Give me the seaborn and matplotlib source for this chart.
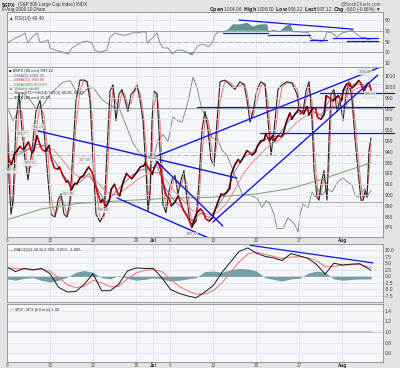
import numpy as np
import pandas as pd
import matplotlib
matplotlib.use("Agg")
import matplotlib.pyplot as plt
import seaborn as sns

# -------------------------------------------------------------------------
# Data read off the $SPX 60-min chart (Jun 8 - Aug 6 2009)
# x values are trading days counted from the Jun 8 open
# -------------------------------------------------------------------------

date_ticks = [0, 5, 10, 15, 17, 19, 24, 29, 34, 39]
date_labels = ["8", "15", "22", "29", "Jul", "6", "13", "20", "27", "Aug"]

# three readings per session (morning, midday, close); last day is partial
price_by_day = [
    [936, 928, 939], [940, 945, 942], [944, 949, 939], [941, 955, 945], [942, 940, 946],
    [935, 925, 924], [926, 918, 912], [913, 905, 911], [910, 916, 918], [921, 926, 921],
    [915, 903, 893], [896, 889, 895], [905, 910, 901], [899, 912, 920], [918, 915, 919],
    [921, 926, 927], [930, 924, 919], [925, 931, 923], [912, 900, 896], [890, 893, 899],
    [895, 886, 881], [878, 870, 880], [884, 887, 883], [878, 876, 879], [884, 893, 901],
    [900, 902, 906], [920, 928, 933], [930, 935, 941], [940, 937, 940], [945, 950, 951],
    [957, 950, 955], [950, 955, 954], [956, 968, 976], [970, 975, 979], [978, 975, 982],
    [974, 980, 980], [972, 970, 975], [992, 990, 987], [989, 992, 987], [997, 1003, 1003],
    [999, 1002, 1006], [1004, 996, 1003], [1004, 997],
]
session_offsets = [0.1, 0.5, 0.9]
partial_offsets = [0.1, 0.33]

ema5 = [937, 938, 943, 947, 945, 932, 919, 909, 912, 920, 906, 893, 902, 910, 918,
        923, 925, 926, 905, 894, 887, 876, 883, 879, 889, 902, 922, 935, 939, 948,
        954, 954, 966, 975, 979, 978, 973, 988, 990, 999, 1003, 1002, 1000]
ema21 = [940, 940, 942, 944, 946, 941, 932, 922, 916, 917, 912, 903, 900, 904, 910,
         916, 920, 921, 914, 903, 895, 886, 883, 882, 884, 892, 905, 920, 930, 938,
         946, 950, 957, 966, 972, 976, 975, 980, 985, 992, 998, 1001, 1001]
ema400_days = [0, 4, 8, 14, 19, 24, 29, 33, 36, 39, 42.33]
ema400 = [877, 887, 892, 895, 897, 898, 901, 906, 913, 921, 930]

sto_days = [0.00, 0.23, 0.47, 0.70, 1.05, 1.40, 1.74, 2.09, 2.44, 2.91,
            3.37, 3.84, 4.30, 4.77, 5.12, 5.58, 5.93, 6.28, 6.63, 6.98,
            7.33, 7.67, 8.02, 8.49, 8.95, 9.30, 9.65, 10.00, 10.35, 10.81,
            11.28, 11.63, 11.98, 12.33, 12.67, 13.02, 13.37, 13.72, 14.07, 14.42,
            14.77, 15.12, 15.47, 15.81, 16.16, 16.40, 16.63, 16.86, 17.09, 17.44,
            17.79, 18.14, 18.49, 18.84, 19.19, 19.53, 19.88, 20.23, 20.58, 20.93,
            21.28, 21.63, 21.98, 22.33, 22.67, 23.02, 23.37, 23.72, 24.07, 24.42,
            24.77, 25.35, 25.93, 26.51, 27.09, 27.56, 27.91, 28.26, 28.60, 29.07,
            29.53, 30.00, 30.35, 30.70, 31.05, 31.51, 31.98, 32.56, 33.14, 33.72,
            34.07, 34.42, 34.77, 35.12, 35.47, 35.70, 36.05, 36.28, 36.51, 36.86,
            37.21, 37.44, 37.67, 38.02, 38.37, 38.72, 39.07, 39.42, 39.77, 40.12,
            40.47, 40.81, 41.16, 41.40, 41.63, 41.86, 42.09, 42.33]
sto_k = [78, 34, 12, 21, 72, 89, 66, 47, 34, 53,
         78, 85, 66, 34, 12, 10, 21, 25, 12, 10,
         21, 53, 85, 98, 98, 97, 85, 47, 12, 7,
         12, 53, 91, 95, 72, 89, 92, 85, 78, 89,
         91, 95, 85, 72, 40, 14, 27, 72, 91, 89,
         53, 18, 13, 27, 34, 37, 25, 34, 40, 21,
         7, 5, 8, 34, 66, 78, 66, 47, 43, 72,
         97, 98, 95, 92, 97, 95, 85, 71, 78, 92,
         97, 95, 72, 50, 66, 92, 95, 97, 96, 89,
         76, 78, 91, 97, 72, 40, 23, 21, 31, 40,
         21, 60, 89, 92, 78, 85, 72, 89, 97, 85,
         60, 40, 21, 21, 27, 23, 53, 61]

vix_days = [0.00, 0.70, 1.28, 1.86, 2.67, 3.49, 4.19, 5.00, 5.81, 6.51,
            7.33, 8.14, 8.72, 9.30, 10.00, 10.47, 11.05, 11.63, 12.33, 13.14,
            13.95, 14.65, 15.47, 16.28, 16.98, 17.56, 18.14, 18.72, 19.30, 19.88,
            20.35, 21.05, 21.63, 22.09, 22.67, 23.26, 23.84, 24.53, 25.00, 25.58,
            26.16, 26.74, 27.44, 28.26, 29.07, 29.65, 30.12, 30.58, 31.05, 31.40,
            32.09, 32.67, 33.14, 33.49, 33.84, 34.07, 34.42, 35.00, 35.47, 35.81,
            36.16, 36.63, 37.21, 37.79, 38.49, 39.07, 39.53, 40.12, 40.47, 40.81,
            41.28, 41.63, 41.86, 42.21, 42.33]
vix = [30.2, 29.4, 29.9, 31.0, 30.6, 30.0, 30.3, 30.9, 31.3, 31.6,
       31.7, 31.0, 30.9, 31.2, 31.3, 31.0, 30.6, 30.4, 30.2, 30.0,
       29.0, 28.1, 27.5, 27.3, 27.1, 28.3, 28.6, 28.2, 29.6, 29.4,
       29.3, 30.5, 31.9, 31.3, 30.0, 29.6, 28.4, 28.3, 27.7, 27.4,
       26.7, 25.9, 25.1, 25.1, 24.95, 24.4, 24.8, 24.6, 24.0, 23.2,
       23.2, 23.8, 23.6, 23.4, 23.0, 24.0, 24.6, 24.4, 25.3, 25.0,
       25.5, 25.1, 25.5, 25.3, 25.9, 26.1, 25.9, 25.7, 25.1, 25.0,
       25.3, 25.5, 25.0, 25.3, 25.4]

rsi_days = [0.00, 0.58, 1.16, 1.74, 2.09, 2.44, 2.91, 3.49, 3.84, 4.19,
            4.77, 5.00, 5.58, 6.51, 7.09, 7.56, 8.14, 8.72, 9.30, 9.88,
            10.23, 10.81, 11.63, 11.98, 12.56, 13.37, 13.95, 14.53, 15.12, 15.70,
            16.16, 16.28, 16.98, 17.44, 17.79, 18.14, 18.72, 19.19, 19.77, 20.35,
            20.93, 21.51, 22.09, 22.44, 23.02, 23.37, 23.84, 24.19, 24.53, 25.12,
            25.70, 26.28, 27.09, 27.91, 28.60, 29.42, 30.23, 30.35, 30.93, 31.74,
            32.33, 32.91, 33.26, 34.07, 34.65, 35.00, 35.23, 35.58, 36.05, 36.63,
            36.98, 37.21, 37.79, 38.37, 38.95, 39.53, 40.12, 40.47, 40.81, 41.28,
            41.63, 41.98, 42.33]
rsi = [47, 53, 58, 62, 66, 47, 58, 66, 49, 49,
       53, 38, 34, 30, 27, 38, 44, 49, 51, 47,
       34, 30, 34, 58, 66, 62, 62, 66, 66, 68,
       68, 47, 58, 66, 47, 38, 38, 27, 34, 34,
       30, 25, 40, 44, 44, 40, 47, 62, 68, 68,
       71, 81, 81, 84, 77, 81, 81, 68, 71, 68,
       77, 81, 68, 68, 66, 68, 58, 53, 53, 49,
       57, 68, 66, 58, 66, 68, 71, 66, 62, 57,
       58, 53, 55]

macd_days = list(range(42)) + [42.33]
macd = [3.5, 1.8, 3.0, 2.4, 3.0, 1.0, -4.2, -6.0, -5.8, -3.0,
        1.0, -5.5, -5.5, -3.0, 2.0, 3.2, 3.0, 3.0, -0.5, -5.0,
        -6.5, -7.5, -8.2, -6.0, -3.5, 1.5, 5.5, 9.5, 10.8, 8.8,
        7.6, 7.0, 6.0, 8.6, 7.8, 6.8, 4.5, 0.8, 5.0, 4.3,
        4.6, 4.8, 2.3]
macd_signal = [3.2, 3.0, 2.8, 2.6, 2.7, 2.0, -0.5, -3.2, -4.3, -3.8,
               -1.5, -2.5, -4.0, -3.8, -1.0, 1.2, 2.3, 2.6, 1.8, -1.0,
               -3.8, -5.5, -6.8, -6.8, -5.5, -2.5, 1.5, 5.5, 8.5, 9.2,
               8.4, 7.6, 6.8, 7.3, 7.5, 7.0, 6.0, 3.6, 3.8, 4.2,
               4.4, 4.5, 3.3]
macd_hist = [-1.0, -1.5, -0.8, -0.5, -1.5, -2.2, -1.5, -0.3, 1.5, 2.2,
             1.5, -0.5, -1.0, 0.3, -0.8, -1.5, -1.2, -0.6, -1.0, -1.8,
             -1.5, -1.0, -0.5, 1.8, 2.0, 1.5, 2.5, 3.0, 2.8, 2.0,
             -0.5, -1.2, -1.8, -1.0, -0.8, 1.2, 2.0, 1.5, -1.0, -1.5,
             -1.2, -1.0, -1.0]

ratio_days = [0, 42.33]
ratio = [1.0, 1.0]

# hand-drawn annotations: ((day, value), (day, value))
price_trendlines = [((3.60, 959.3), (26.74, 915.7)),
                    ((16.86, 934.3), (43.14, 1017.6)),
                    ((17.00, 934.3), (25.10, 871.3)),
                    ((12.79, 897.2), (24.00, 858.3)),
                    ((23.95, 875.0), (43.10, 1011.0))]
price_levels = [(957.4, 29.4), (981.5, 22.1), (994.4, 36.4)]   # (price, from day)
rsi_trendline = ((26.98, 90.0), (40.23, 73.0))
rsi_levels = [(66, 25.12, 30.35), (62, 30.35, 35.23), (53, 35.23, 37.21),
              (57, 37.91, 43.14), (51, 39.53, 43.14)]
macd_trendline = ((28.26, 11.8), (42.56, 5.1))

price_tags = [(0.47, 923, "926.35"), (1.74, 956.5, "949.77"), (3.60, 963, "956.23"),
              (2.67, 929.6, "929.15"), (9.07, 932.4, "927.09"), (7.09, 901, "903.78"),
              (11.16, 886, "888.86"), (16.98, 934, "931.92"), (21.50, 863.5, "869.32"),
              (41.60, 1013.9, "1008.00"), (42.20, 993.5, "996.22")]

# -------------------------------------------------------------------------
# Layout (pixels of the 400x368 output)
# -------------------------------------------------------------------------
W, H = 400, 368
LEFT, RIGHT = 7, 383
XMAX = 43.72
OUTER = "#e3e3e3"
PANEL = "#f5f6fa"
GRID = "#dcdde6"
BLUE = "#1414e6"
FS = 3.6

sns.set_theme(style="white")
plt.rcParams["font.family"] = ["Liberation Sans", "DejaVu Sans"]

fig = plt.figure(figsize=(W / 100, H / 100), dpi=100)
fig.patch.set_facecolor(OUTER)


def panel(top, bottom):
    return fig.add_axes([LEFT / W, 1 - bottom / H, (RIGHT - LEFT) / W, (bottom - top) / H])


def style(ax, yticks, labels):
    ax.set_facecolor(PANEL)
    ax.set_xlim(0, XMAX)
    ax.set_xticks(date_ticks)
    ax.set_xticklabels([])
    ax.set_yticks(yticks)
    ax.set_yticklabels(labels)
    ax.yaxis.tick_right()
    ax.tick_params(length=0, labelsize=FS, colors="#444444", pad=1.5)
    ax.grid(True, color=GRID, linewidth=0.5)
    ax.set_xlabel("")
    ax.set_ylabel("")
    for s in ax.spines.values():
        s.set_color("#8c8c8c")
        s.set_linewidth(0.6)


def date_axis(ax):
    ax.set_xticklabels(date_labels)
    ax.tick_params(axis="x", labelsize=3.3, pad=0.8, colors="#555555")
    for t in ax.get_xticklabels():
        if t.get_text() in ("Jul", "Aug"):
            t.set_fontweight("bold")
            t.set_color("#222222")


def seg(ax, line, **kw):
    (x0, y0), (x1, y1) = line
    ax.plot([x0, x1], [y0, y1], **kw)


# ---------------- header ----------------
fig.text(2 / W, 1 - 4.5 / H, "$SPX", fontsize=3.8, fontweight="bold", va="center")
fig.text(18 / W, 1 - 4.5 / H, "(S&P 500 Large Cap Index) INDX", fontsize=3.3,
         va="center", color="#333333")
fig.text(2 / W, 1 - 10 / H, "6-Aug-2009 10:24am", fontsize=3.3, va="center", color="#333333")
fig.text(381 / W, 1 - 4 / H, "@StockCharts.com", fontsize=3.3, ha="right", va="center",
         color="#555555")
fig.text(381 / W, 1 - 9.5 / H,
         r"$\bf{Open}$ 1004.06  $\bf{High}$ 1008.00  $\bf{Low}$ 996.22  $\bf{Last}$ 997.12  "
         r"$\bf{Chg}$ -6.60 (-0.66%) ▼",
         fontsize=3.3, ha="right", va="center", color="#333333")

# ---------------- RSI panel ----------------
ax_rsi = panel(12, 67)
style(ax_rsi, [10, 30, 50, 70, 90], ["10", "30", "50", "70", "90"])
ax_rsi.set_ylim(2.6, 104.9)
ax_rsi.axhline(70, color="#a0a0a8", lw=0.7)
ax_rsi.axhline(30, color="#a0a0a8", lw=0.7)
ax_rsi.axhline(50, color="#a0a0a8", lw=0.5, ls="-.")
rsi_arr = np.array(rsi, dtype=float)
ax_rsi.fill_between(rsi_days, rsi_arr, 70, where=rsi_arr > 70, interpolate=True,
                    color="#5b9a8b", lw=0)
ax_rsi.fill_between(rsi_days, rsi_arr, 30, where=rsi_arr < 30, interpolate=True,
                    color="#5b9a8b", lw=0)
sns.lineplot(x=rsi_days, y=rsi, ax=ax_rsi, color="#7d7d9c", linewidth=0.6,
             estimator=None, sort=False)
seg(ax_rsi, rsi_trendline, color=BLUE, lw=0.9)
for lvl, d0, d1 in rsi_levels:
    ax_rsi.plot([d0, d1], [lvl, lvl], color=BLUE, lw=0.9, clip_on=False)
ax_rsi.set_xlabel("")
ax_rsi.set_ylabel("")
ax_rsi.text(0.006, 0.88, "▲ RSI(14) 49.49", transform=ax_rsi.transAxes, fontsize=3.3,
            va="center", color="#333333")

# ---------------- price panel ----------------
ax_vix = panel(67, 237)
ax_vix.set_facecolor(PANEL)
ax_vix.set_xlim(0, XMAX)
ax_vix.set_ylim(22.71, 32.48)
ax_vix.set_xticks([])
ax_vix.set_yticks([])
ax_vix.grid(False)
for s in ax_vix.spines.values():
    s.set_visible(False)
ax_vix.set_zorder(1)

ax_sto = ax_vix.twinx()
ax_sto.set_ylim(-2.6, 106.4)
ax_sto.set_yticks([])
ax_sto.grid(False)
ax_sto.patch.set_visible(False)
for s in ax_sto.spines.values():
    s.set_visible(False)
ax_sto.set_zorder(2)

ax_p = panel(67, 237)
style(ax_p, list(range(870, 1011, 10)), [str(v) for v in range(870, 1011, 10)])
ax_p.set_ylim(861.1, 1018.5)
ax_p.patch.set_visible(False)
ax_p.set_zorder(3)
date_axis(ax_p)

# VIX and slow stochastics underneath the price
sns.lineplot(x=vix_days, y=vix, ax=ax_vix, color="#7b7b7b", linewidth=0.6,
             estimator=None, sort=False)
ax_sto.axhline(80, color="#9a9a9a", lw=0.6)
ax_sto.axhline(20, color="#9a9a9a", lw=0.6)
ax_sto.axhline(50, color="#9a9a9a", lw=0.5, ls="-.")
sto_d = pd.Series(sto_k, dtype=float).rolling(2, min_periods=1).mean()
sns.lineplot(x=sto_days, y=sto_d.values, ax=ax_sto, color="#f07a7a", linewidth=0.8,
             estimator=None, sort=False)
sns.lineplot(x=sto_days, y=sto_k, ax=ax_sto, color="#262626", linewidth=0.8,
             estimator=None, sort=False)
for a in (ax_vix, ax_sto):
    a.set_xlabel("")
    a.set_ylabel("")

# moving averages
day_mid = [i + 0.5 for i in range(len(ema5) - 1)] + [42.2]
sns.lineplot(x=ema400_days, y=ema400, ax=ax_p, color="#78a06a", linewidth=0.7,
             estimator=None, sort=False)
sns.lineplot(x=day_mid, y=ema21, ax=ax_p, color="#f08585", linewidth=0.7,
             estimator=None, sort=False)
sns.lineplot(x=day_mid, y=ema5, ax=ax_p, color="#6a6aac", linewidth=0.6,
             estimator=None, sort=False)

# price, red on falling bars and black on rising bars
price_t, price = [], []
for i, day in enumerate(price_by_day):
    offs = session_offsets if len(day) == 3 else partial_offsets
    price_t += [i + o for o in offs]
    price += day
ax_p.plot(price_t, price, color="#d40000", lw=1.2)
for i in range(len(price) - 1):
    if price[i + 1] > price[i]:
        ax_p.plot(price_t[i:i + 2], price[i:i + 2], color="#111111", lw=0.8)

for line in price_trendlines:
    seg(ax_p, line, color=BLUE, lw=1.0)
for lvl, d0 in price_levels:
    ax_p.plot([d0, 45.0], [lvl, lvl], color=BLUE, lw=0.9, clip_on=False)
ax_p.hlines(price_by_day[-2][-1], price_t[-2], XMAX, colors="#9a9aff", lw=0.6, linestyles=":")

for d, v, txt in price_tags:
    ax_p.text(d, v, txt, fontsize=2.6, ha="center", va="center", color="#555555",
              bbox=dict(boxstyle="square,pad=0.15", fc="#ffffff", ec="#999999", lw=0.3,
                        alpha=0.8))

legend_rows = [("■ $SPX (60 min) 997.12", "#222222"),
               ("— EMA(5) 1000.30", "#5a5a9a"),
               ("— EMA(21) 998.80", "#e03c3c"),
               ("— EMA(400) 929.59", "#4f8a40"),
               ("▲ Volume undef", "#3f7a3f"),
               ("— Slow STO %K(14) %D(3) 40.26, 52.47", "#222222"),
               ("— $VIX (60 min) 25.55", "#222222")]
for k, (txt, col) in enumerate(legend_rows):
    ax_p.text(0.006, 0.975 - k * 0.026, txt, transform=ax_p.transAxes, fontsize=3.0,
              va="center", color=col)

# ---------------- MACD panel ----------------
ax_m = panel(244, 302)
mt = [-7.5, -5.0, -2.5, 0.0, 2.5, 5.0, 7.5, 10.0]
style(ax_m, mt, [f"{v:.1f}" for v in mt])
ax_m.set_ylim(-9.8, 12.3)
ax_m.fill_between(macd_days, macd_hist, 0, color="#5b8f99", alpha=0.85, lw=0)
sns.lineplot(x=macd_days, y=macd_signal, ax=ax_m, color="#f07070", linewidth=0.7,
             estimator=None, sort=False)
sns.lineplot(x=macd_days, y=macd, ax=ax_m, color="#1a1a1a", linewidth=0.7,
             estimator=None, sort=False)
seg(ax_m, macd_trendline, color=BLUE, lw=0.9)
ax_m.set_xlabel("")
ax_m.set_ylabel("")
ax_m.text(0.006, 0.9, "— MACD(12,26,9) 2.329, 3.000, -1.005", transform=ax_m.transAxes,
          fontsize=3.0, va="center", color="#333333")

# ---------------- ratio panel ----------------
ax_r = panel(304, 362)
rt = [0.6, 0.8, 1.0, 1.2, 1.4]
style(ax_r, rt, [f"{v:.1f}" for v in rt])
ax_r.set_ylim(0.429, 1.533)
sns.lineplot(x=ratio_days, y=ratio, ax=ax_r, color="#b4b4bc", linewidth=1.2,
             estimator=None, sort=False)
ax_r.hlines(ratio[-1], ratio_days[-1], XMAX, colors="#9a9aff", lw=0.8, linestyles=":")
ax_r.set_xlabel("")
ax_r.set_ylabel("")
date_axis(ax_r)
ax_r.text(0.006, 0.9, "— $SPX:$SPX (60 min) 1.00", transform=ax_r.transAxes,
          fontsize=3.0, va="center", color="#333333")

fig.savefig("out.png", dpi=100, facecolor=fig.get_facecolor())
